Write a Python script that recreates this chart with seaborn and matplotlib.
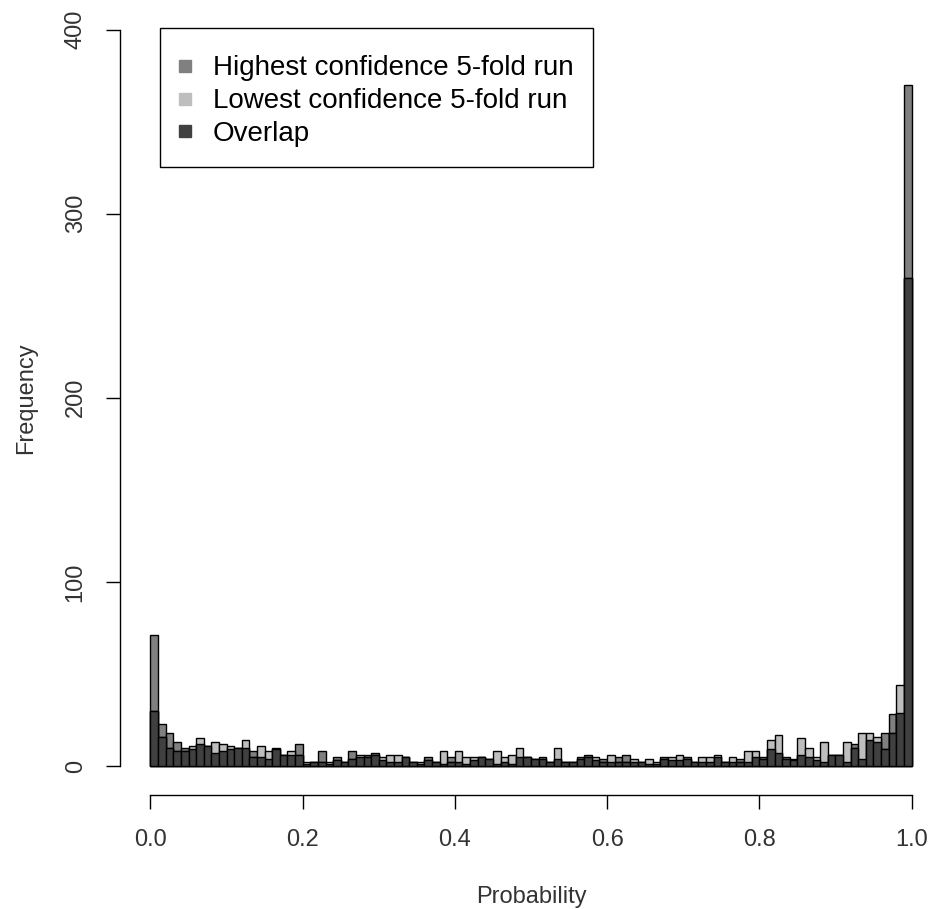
import numpy as np
import pandas as pd
import matplotlib
matplotlib.use('Agg')
import matplotlib.pyplot as plt
import seaborn as sns
from matplotlib.lines import Line2D

# 100 bins of width 0.01 on [0, 1]
bin_edges = np.linspace(0, 1, 101)
bin_mids = (bin_edges[:-1] + bin_edges[1:]) / 2

# counts per bin
highest_counts = [
    71, 23, 18, 13, 10, 9, 12, 11, 7, 8,
    9, 10, 10, 8, 5, 4, 10, 6, 6, 12,
    1, 2, 8, 1, 5, 2, 8, 5, 6, 7,
    3, 2, 2, 5, 2, 1, 5, 2, 1, 5,
    2, 1, 3, 5, 4, 1, 2, 1, 5, 5,
    4, 5, 2, 4, 2, 2, 5, 6, 3, 4,
    2, 5, 6, 2, 2, 1, 1, 5, 3, 3,
    5, 2, 2, 2, 5, 2, 2, 4, 2, 5,
    5, 9, 7, 5, 3, 6, 5, 3, 2, 6,
    6, 2, 12, 4, 14, 13, 18, 28, 29, 370,
]
lowest_counts = [
    30, 16, 10, 8, 8, 11, 15, 11, 13, 12,
    11, 10, 14, 5, 11, 8, 9, 6, 8, 6,
    2, 2, 2, 2, 3, 2, 4, 6, 5, 6,
    5, 6, 6, 5, 2, 2, 3, 2, 8, 2,
    8, 5, 5, 5, 4, 8, 5, 6, 10, 5,
    4, 4, 2, 10, 2, 2, 4, 5, 5, 2,
    6, 2, 2, 4, 2, 4, 2, 4, 5, 6,
    4, 2, 5, 5, 6, 2, 5, 2, 8, 8,
    4, 14, 17, 4, 4, 15, 10, 5, 13, 6,
    6, 13, 10, 18, 18, 16, 9, 18, 44, 265,
]
legend_labels = ['Highest confidence 5-fold run',
                 'Lowest confidence 5-fold run',
                 'Overlap']
colors = ['#808080', '#bebebe', '#404040']

sns.set_theme(style='ticks')
plt.rcParams['font.family'] = ['Liberation Sans', 'DejaVu Sans']

df = pd.DataFrame({
    'prob': bin_mids,
    'highest': highest_counts,
    'lowest': lowest_counts,
})
df['overlap'] = np.minimum(df['highest'], df['lowest'])

fig = plt.figure(figsize=(9.31, 9.09), dpi=100)
ax = fig.add_axes([0.1289, 0.1249, 0.8829, 0.875])

# draw highest, then lowest over it, then the overlap on top
for col_name, col in zip(['highest', 'lowest', 'overlap'], colors):
    sns.histplot(data=df, x='prob', weights=col_name, bins=bin_edges.tolist(),
                 color=col, alpha=1, edgecolor='black', linewidth=1, ax=ax)

ax.set_xlim(-0.04, 1.04)
ax.set_ylim(-16, 416)
ax.set_xticks(np.arange(0, 1.01, 0.2))
ax.set_xticklabels([f'{v:.1f}' for v in np.arange(0, 1.01, 0.2)])
ax.set_yticks([0, 100, 200, 300, 400])

for side in ['top', 'right']:
    ax.spines[side].set_visible(False)
ax.spines['bottom'].set_bounds(0, 1)
ax.spines['left'].set_bounds(0, 400)
for side in ['bottom', 'left']:
    ax.spines[side].set_color('black')
    ax.spines[side].set_linewidth(1)

ax.tick_params(axis='both', labelsize=17, length=10, width=1, color='black',
               labelcolor='#333333', pad=14)
ax.tick_params(axis='y', labelrotation=90)
for lab in ax.get_yticklabels():
    lab.set_va('center')

ax.set_xlabel('Probability', fontsize=17, color='#333333', labelpad=25)
ax.set_ylabel('Frequency', fontsize=17, color='#333333', labelpad=20)

# blank tiny title gives the extra room above the first row, like the original
handles = [Line2D([], [], marker='s', ls='', color=c, markersize=9) for c in colors]
leg = ax.legend(handles, legend_labels, loc='upper left',
                bbox_to_anchor=(0.0487, 0.965), fontsize=20, frameon=True,
                fancybox=False, edgecolor='black', framealpha=1,
                borderaxespad=0, borderpad=0.7, handletextpad=0.8,
                labelspacing=0.25, handlelength=0.4,
                title=' ', title_fontsize=1, labelcolor='black')
leg.get_frame().set_linewidth(1)

fig.savefig('out.png', dpi=100, facecolor='white')
